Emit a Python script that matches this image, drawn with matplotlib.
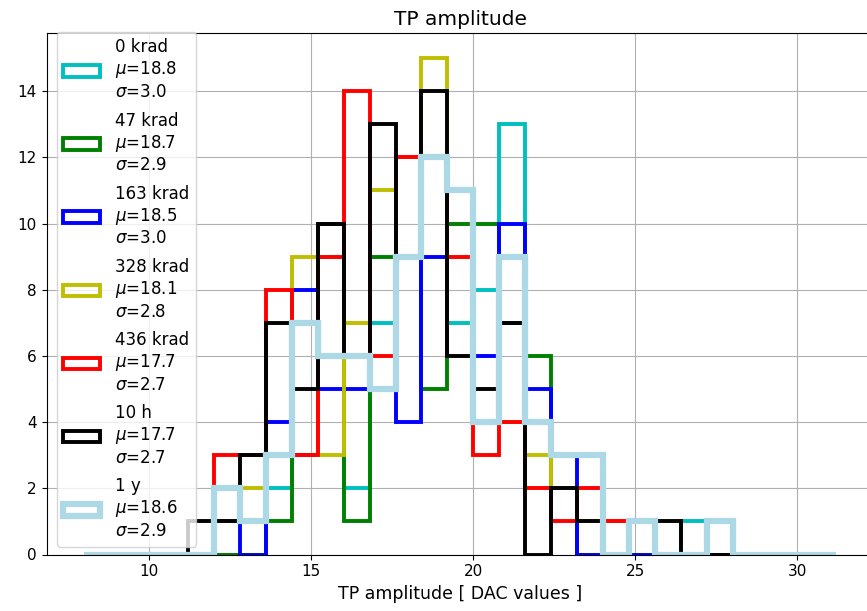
import numpy as np
import matplotlib
matplotlib.use("Agg")
import matplotlib.pyplot as plt

# common binning: 29 bins of 0.8 DAC between 8.0 and 31.2
edges = np.linspace(8.0, 31.2, 30)
centers = 0.5 * (edges[:-1] + edges[1:])

# counts per bin for each dose step
cnt_0krad   = [0, 0, 0, 0, 0, 0, 0, 2, 7, 9, 2, 7, 9, 12, 7, 8, 13, 4, 2, 1, 1, 0, 0, 1, 0, 0, 0, 0, 0]
cnt_47krad  = [0, 0, 0, 0, 0, 0, 0, 1, 3, 10, 1, 9, 12, 5, 10, 10, 7, 6, 2, 0, 0, 0, 0, 0, 0, 0, 0, 0, 0]
cnt_163krad = [0, 0, 0, 0, 0, 1, 0, 4, 8, 5, 5, 5, 4, 9, 11, 6, 10, 5, 3, 0, 1, 0, 0, 0, 0, 0, 0, 0, 0]
cnt_328krad = [0, 0, 0, 0, 0, 1, 2, 3, 9, 3, 7, 11, 12, 15, 9, 4, 4, 3, 2, 1, 1, 1, 0, 0, 0, 0, 0, 0, 0]
cnt_436krad = [0, 0, 0, 0, 0, 3, 3, 8, 3, 9, 14, 6, 12, 12, 9, 3, 4, 2, 1, 2, 1, 1, 0, 0, 0, 0, 0, 0, 0]
cnt_10h     = [0, 0, 0, 0, 1, 1, 3, 7, 5, 10, 6, 13, 9, 14, 6, 5, 7, 0, 2, 1, 0, 1, 1, 0, 0, 0, 0, 0, 0]
cnt_1y      = [0, 0, 0, 0, 0, 2, 1, 3, 7, 6, 6, 5, 9, 12, 11, 4, 9, 4, 3, 3, 0, 1, 0, 0, 1, 0, 0, 0, 0]

names  = ["0 krad", "47 krad", "163 krad", "328 krad", "436 krad", "10 h", "1 y"]
means  = [18.8, 18.7, 18.5, 18.1, 17.7, 17.7, 18.6]
sigmas = [3.0, 2.9, 3.0, 2.8, 2.7, 2.7, 2.9]
colors = ["c", "g", "b", "y", "r", "k", "lightblue"]
counts = [cnt_0krad, cnt_47krad, cnt_163krad, cnt_328krad, cnt_436krad, cnt_10h, cnt_1y]

fig = plt.figure(figsize=(8.67, 6.11), dpi=100)
ax = fig.add_axes([46.7 / 867, 56.5 / 611, (874 - 46.7) / 867, 521.2 / 611])

for name, mu, sig, col, cnt in zip(names, means, sigmas, colors, counts):
    lw = 4.5 if col == "lightblue" else 2.8
    ax.hist(centers, bins=edges, weights=cnt, histtype="step", color=col,
            linewidth=lw, label=f"{name}\n$\\mu$={mu}\n$\\sigma$={sig}")

ax.set_xlim(6.84, 32.36)
ax.set_ylim(0, 15.75)
ax.set_yticks(np.arange(0, 15, 2))
ax.grid(True)
ax.set_title("TP amplitude", fontsize=14.5)
ax.set_xlabel("TP amplitude [ DAC values ]", fontsize=12.5)
ax.tick_params(labelsize=11)
ax.legend(loc="upper left", bbox_to_anchor=(0.012, 1.003), borderaxespad=0,
          fontsize=12, handlelength=2.2, labelspacing=0.62, handletextpad=0.9)

fig.savefig("out.png", dpi=100)
